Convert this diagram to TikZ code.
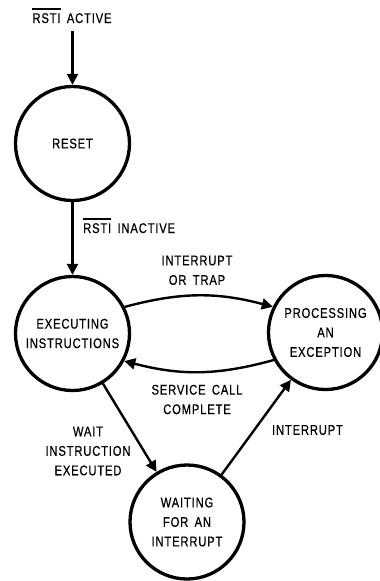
\documentclass[tikz,border=0pt]{standalone}
\usepackage{fontspec}
\setmainfont{Liberation Sans}[FakeStretch=0.8,LetterSpace=6,FakeBold=0.6,WordSpace=1.6]
\usetikzlibrary{arrows.meta}
\newcommand\ovl[1]{\vbox{\hrule height 1.3pt\kern 3.5pt\hbox{#1}}}
\begin{document}
\begin{tikzpicture}[x=1pt,y=-1pt,
  state/.style={circle,draw,line width=3.3pt,minimum size=114pt,inner sep=0pt,align=center,font=\fontsize{14}{19.5}\selectfont},
  lbl/.style={align=center,font=\fontsize{14}{19.5}\selectfont,inner sep=0pt},
  conn/.style={line width=2.4pt,-{Triangle[length=11pt,width=11pt]}}]
\useasboundingbox (0,0) rectangle (380,581);
\node[state] (reset) at (72.5,143.5) {RESET};
\node[state] (exec) at (72.5,333.5) {EXECUTING\\INSTRUCTIONS};
\node[state] (proc) at (325.5,332.5) {PROCESSING\\AN\\EXCEPTION};
\node[state] (wait) at (187,522) {WAITING\\FOR AN\\INTERRUPT};
\node[lbl,anchor=base] (act) at (72,23) {\ovl{RSTI} ACTIVE};
\coordinate (start) at (72.5,31);
\draw[conn] (start) -- (reset);
\draw[conn] (reset) -- (exec);
\node[lbl,anchor=base west] (inact) at (83,233) {\ovl{RSTI} INACTIVE};
\draw[conn] (exec.27) to[bend left=15] (proc.154);
\draw[conn] (proc.208) to[bend left=15] (exec.-28);
\draw[conn] (exec) -- (wait);
\draw[conn] (wait) -- (proc);
\node[lbl] (l1) at (197,270.3) {INTERRUPT\\OR TRAP};
\node[lbl] (l2) at (197,399.5) {SERVICE CALL\\COMPLETE};
\node[lbl] (l3) at (88,451) {WAIT\\INSTRUCTION\\EXECUTED};
\node[lbl] (l4) at (307.5,430) {INTERRUPT};
\end{tikzpicture}
\end{document}
